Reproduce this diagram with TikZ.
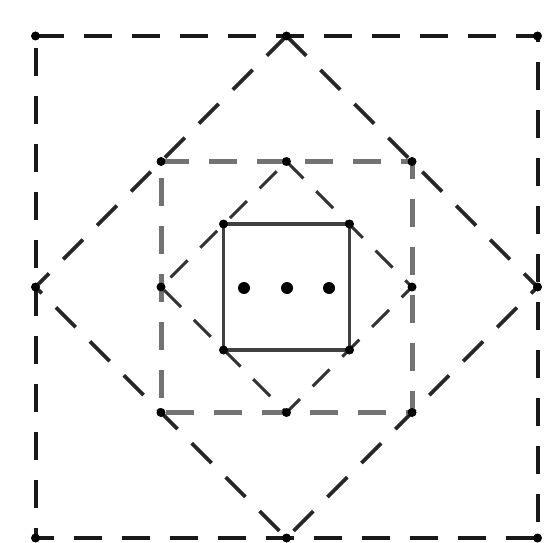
\documentclass[tikz,border=0pt]{standalone}
\begin{document}
\begin{tikzpicture}[x=1pt,y=-1pt,
  outerline/.style={line width=4pt,dash pattern=on 28pt off 20pt,black!90},
  midline/.style={line width=5pt,dash pattern=on 28pt off 20pt,black!55},
  diamline/.style={line width=3.6pt,dash pattern=on 28pt off 20pt,black!85},
  innerdiam/.style={line width=3pt,dash pattern=on 24pt off 18pt,black!80},
  solidsq/.style={line width=3.5pt,black!75},
  vdot/.style={circle,fill=black,inner sep=0pt,minimum size=9pt},
  cdot/.style={circle,fill=black,inner sep=0pt,minimum size=12pt}]
\useasboundingbox (0,0) rectangle (546,543);
% outer square
\coordinate (o1) at (35.5,36);
\coordinate (o2) at (537.5,36);
\coordinate (o3) at (537.5,538);
\coordinate (o4) at (35.5,538);
\coordinate (om1) at (286.5,36);
\coordinate (om2) at (537.5,287);
\coordinate (om3) at (286.5,538);
\coordinate (om4) at (35.5,287);
% middle square
\coordinate (m1) at (161,161.5);
\coordinate (m2) at (412,161.5);
\coordinate (m3) at (412,412.5);
\coordinate (m4) at (161,412.5);
\coordinate (mm1) at (286.5,161.5);
\coordinate (mm2) at (412,287);
\coordinate (mm3) at (286.5,412.5);
\coordinate (mm4) at (161,287);
% inner square
\coordinate (i1) at (223.5,224);
\coordinate (i2) at (349.5,224);
\coordinate (i3) at (349.5,350);
\coordinate (i4) at (223.5,350);

\draw[outerline] (o1) -- (o2) -- (o3) -- (o4) -- cycle;
\draw[diamline] (om1) -- (om2) -- (om3) -- (om4) -- cycle;
\draw[midline] (m1) -- (m2) -- (m3) -- (m4) -- cycle;
\draw[innerdiam] (mm1) -- (mm2) -- (mm3) -- (mm4) -- cycle;
\draw[solidsq] (i1) -- (i2) -- (i3) -- (i4) -- cycle;

\foreach \p in {o1,o2,o3,o4,om1,om2,om3,om4,m1,m2,m3,m4,mm1,mm2,mm3,mm4,i1,i2,i3,i4}
  \node[vdot] at (\p) {};

\node[cdot] (d1) at (244,288) {};
\node[cdot] (d2) at (287,288) {};
\node[cdot] (d3) at (329,288) {};
\end{tikzpicture}
\end{document}
